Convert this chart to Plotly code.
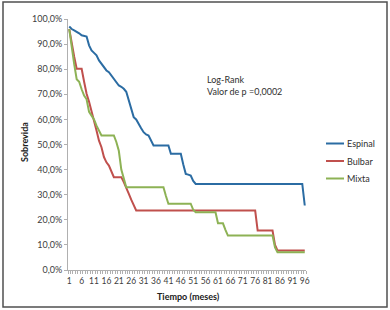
import plotly.graph_objects as go

months = list(range(1, 97))

espinal = [97.0, 96.0, 95.5, 95.0, 94.3, 93.5, 93.4, 93.0, 89.5, 87.5,
           86.5, 85.5, 83.5, 82.0, 80.5, 79.5, 78.8, 77.5, 76.5, 75.0,
           73.5, 73.0, 72.2, 71.0, 67.5, 63.5, 60.9, 60.0, 58.5, 56.5,
           54.9, 54.0, 53.6, 51.5, 49.6, 49.6, 49.6, 49.6, 49.6, 49.6,
           49.6, 46.3, 46.3, 46.3, 46.3, 46.3, 42.0, 38.3, 38.0, 37.6,
           35.5, 34.3, 34.3, 34.3, 34.3, 34.3, 34.3, 34.3, 34.3, 34.3,
           34.3, 34.3, 34.3, 34.3, 34.3, 34.3, 34.3, 34.3, 34.3, 34.3,
           34.3, 34.3, 34.3, 34.3, 34.3, 34.3, 34.3, 34.3, 34.3, 34.3,
           34.3, 34.3, 34.3, 34.3, 34.3, 34.3, 34.3, 34.3, 34.3, 34.3,
           34.3, 34.3, 34.3, 34.3, 34.3, 25.7]

bulbar = [96.0, 90.0, 85.0, 80.2, 80.2, 80.2, 75.0, 70.2, 67.0, 63.5,
          59.5, 55.6, 51.5, 48.9, 45.0, 42.9, 41.6, 39.0, 37.0, 37.0,
          37.0, 37.0, 35.0, 33.0, 30.4, 28.0, 26.0, 23.7, 23.7, 23.7,
          23.7, 23.7, 23.7, 23.7, 23.7, 23.7, 23.7, 23.7, 23.7, 23.7,
          23.7, 23.7, 23.7, 23.7, 23.7, 23.7, 23.7, 23.7, 23.7, 23.7,
          23.7, 23.7, 23.7, 23.7, 23.7, 23.7, 23.7, 23.7, 23.7, 23.7,
          23.7, 23.7, 23.7, 23.7, 23.7, 23.7, 23.7, 23.7, 23.7, 23.7,
          23.7, 23.7, 23.7, 23.7, 23.7, 23.7, 15.7, 15.7, 15.7, 15.7,
          15.7, 15.7, 15.7, 10.0, 7.8, 7.8, 7.8, 7.8, 7.8, 7.8,
          7.8, 7.8, 7.8, 7.8, 7.8, 7.8]

mixta = [96.0, 88.0, 82.0, 76.0, 75.0, 72.0, 69.5, 68.0, 63.0, 61.5,
         60.0, 57.5, 55.6, 53.6, 53.6, 53.6, 53.6, 53.6, 53.6, 51.0,
         47.5, 40.0, 36.3, 33.0, 33.0, 33.0, 33.0, 33.0, 33.0, 33.0,
         33.0, 33.0, 33.0, 33.0, 33.0, 33.0, 33.0, 33.0, 33.0, 29.5,
         26.4, 26.4, 26.4, 26.4, 26.4, 26.4, 26.4, 26.4, 26.4, 26.4,
         24.0, 23.0, 23.0, 23.0, 23.0, 23.0, 23.0, 23.0, 23.0, 23.0,
         18.6, 18.6, 18.6, 16.0, 13.7, 13.7, 13.7, 13.7, 13.7, 13.7,
         13.7, 13.7, 13.7, 13.7, 13.7, 13.7, 13.7, 13.7, 13.7, 13.7,
         13.7, 13.7, 13.7, 9.0, 7.1, 7.1, 7.1, 7.1, 7.1, 7.1,
         7.1, 7.1, 7.1, 7.1, 7.1, 7.1]

series_names = ["Espinal", "Bulbar", "Mixta"]
series_values = [espinal, bulbar, mixta]
colors = ["#2b6ca3", "#c0504d", "#8db255"]

x_tick_vals = list(range(1, 97, 5))
y_tick_vals = list(range(0, 101, 10))
y_tick_text = [f"{v},0%" for v in y_tick_vals]

FONT = "Lato"
fig = go.Figure()
for name, vals, col in zip(series_names, series_values, colors):
    fig.add_trace(go.Scatter(x=months, y=vals, mode="lines", name=name,
                             line=dict(color=col, width=2), showlegend=False))

W, H = 390, 310
ml, mr, mt, mb = 68, 84, 19, 40
pw, ph = W - ml - mr, H - mt - mb

def px(xp):
    return (xp - ml) / pw

def py(yp):
    return 1 - (yp - mt) / ph

fig.update_layout(
    width=W, height=H,
    margin=dict(l=ml, r=mr, t=mt, b=mb),
    paper_bgcolor="white", plot_bgcolor="white",
    font=dict(family=FONT, size=9, color="#404040"),
    xaxis=dict(range=[0.5, 96.5], tickmode="array", tickvals=x_tick_vals,
               ticks="", showgrid=False, zeroline=False, tickangle=0,
               showline=True, linecolor="#b0b0b0", linewidth=1,
               ticklabelstandoff=3,
               tickfont=dict(size=8.5, color="#404040"),
               minor=dict(tickmode="linear", tick0=0.5, dtick=1, ticks="outside",
                          ticklen=3, tickcolor="#b0b0b0", showgrid=False)),
    yaxis=dict(range=[0, 100], tickmode="array", tickvals=y_tick_vals,
               ticktext=y_tick_text, ticks="outside", ticklen=3,
               tickcolor="#b0b0b0", showgrid=False, zeroline=False,
               showline=True, linecolor="#b0b0b0", linewidth=1,
               tickfont=dict(size=9, color="#404040")),
)

annotations = [
    dict(text="<b>Sobrevida</b>", x=px(24), y=py(142), xref="paper", yref="paper",
         xanchor="center", yanchor="middle",
         textangle=-90, showarrow=False, font=dict(size=9, color="#202020")),
    dict(text="<b>Tiempo (meses)</b>", x=px(188), y=py(296.5), xref="paper", yref="paper",
         xanchor="center", yanchor="middle",
         showarrow=False, font=dict(size=9, color="#202020")),
    dict(text="Log-Rank<br>Valor de p =0,0002", x=px(205), y=py(85), xref="paper",
         yref="paper", xanchor="left", yanchor="middle", align="left", showarrow=False,
         font=dict(size=9, color="#303030")),
]
shapes = []
legend_y = [143.5, 161, 178.5]
for name, col, ly in zip(series_names, colors, legend_y):
    shapes.append(dict(type="line", xref="paper", yref="paper",
                       x0=px(326), x1=px(344), y0=py(ly), y1=py(ly),
                       line=dict(color=col, width=2)))
    annotations.append(dict(text=name, x=px(344.5), y=py(ly), xref="paper",
                            yref="paper", xanchor="left", yanchor="middle",
                            showarrow=False, font=dict(size=9, color="#303030")))
shapes.append(dict(type="rect", xref="paper", yref="paper",
                   x0=px(3), x1=px(387), y0=py(307), y1=py(2),
                   line=dict(color="#505050", width=1.5), fillcolor="rgba(0,0,0,0)"))
fig.update_layout(annotations=annotations, shapes=shapes)

fig.write_html("out.html", config={"displayModeBar": False},
               post_script="document.body.style.margin='0';document.body.style.padding='0';")
